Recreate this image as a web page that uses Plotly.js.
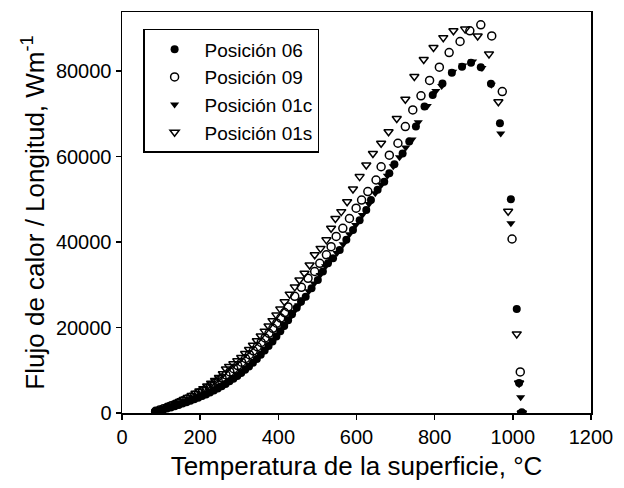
<!DOCTYPE html>
<html>
<head>
<meta charset="utf-8">
<script src="https://cdn.plot.ly/plotly-3.0.1.min.js"></script>
<style>html,body{margin:0;padding:0;background:#fff;}#chart{width:624px;height:488px;}</style>
</head>
<body>
<div id="chart"></div>
<script>
// Posición 06 (filled circles)
const x06 = [85, 95, 105, 115, 125, 135, 145, 155, 165, 175, 185, 195, 205, 215, 225, 235, 245, 255, 265, 275, 285, 295, 305, 315, 325, 335, 345, 355, 365, 375, 385, 395, 405, 415, 425, 435, 447, 458, 470, 485, 501, 514, 527, 540, 557, 574, 591, 608, 625, 637, 654, 671, 684, 697, 718, 735, 752, 774, 795, 820, 844, 870, 893, 918, 944, 967, 995, 1010, 1016, 1023];
const y06 = [300, 500, 800, 1050, 1300, 1600, 1900, 2200, 2500, 2850, 3200, 3550, 3950, 4350, 4800, 5250, 5750, 6250, 6800, 7400, 8000, 8650, 9350, 10100, 10900, 11750, 12650, 13600, 14600, 15650, 16750, 17900, 19100, 20350, 21700, 23100, 24600, 26000, 27200, 29200, 31100, 33100, 35000, 36200, 38100, 40500, 42800, 45100, 47500, 49800, 52200, 54100, 56100, 58200, 60700, 63500, 67000, 71700, 74400, 77100, 79600, 81000, 81900, 80900, 77000, 67800, 50000, 24300, 7000, 0];

// Posición 09 (open circles)
const x09 = [86, 96, 106, 116, 126, 136, 146, 156, 166, 176, 186, 196, 206, 216, 226, 236, 246, 256, 266, 276, 286, 296, 306, 316, 326, 336, 346, 356, 366, 376, 386, 396, 406, 416, 425, 442, 459, 476, 493, 506, 523, 535, 548, 565, 582, 599, 613, 629, 650, 663, 684, 706, 725, 744, 765, 787, 812, 837, 865, 890, 918, 946, 973, 998, 1019, 1023];
const y09 = [400, 700, 1000, 1350, 1700, 2050, 2450, 2850, 3250, 3700, 4150, 4650, 5150, 5700, 6300, 6900, 7550, 8200, 8900, 9600, 10350, 11100, 11900, 12750, 13650, 14550, 15500, 16500, 17550, 18650, 19800, 21000, 22200, 23500, 24800, 27300, 29400, 31500, 33100, 35000, 37000, 38900, 41300, 43200, 45500, 47900, 49800, 51800, 54500, 57600, 60300, 63100, 67000, 70900, 74200, 77800, 80900, 84300, 86900, 89400, 90800, 88200, 75200, 40700, 9600, 0];

// Posición 01c (filled triangles)
const x01c = [88, 98, 108, 118, 128, 138, 148, 158, 168, 178, 188, 198, 208, 218, 228, 238, 248, 258, 268, 278, 288, 298, 308, 318, 328, 338, 348, 358, 368, 378, 388, 398, 408, 418, 428, 440, 452, 464, 478, 492, 507, 521, 535, 550, 566, 582, 598, 615, 632, 648, 664, 679, 694, 710, 726, 742, 758, 781, 803, 818, 846, 872, 897, 921, 945, 969, 995, 1020, 1023];
const y01c = [350, 600, 850, 1100, 1400, 1700, 2000, 2300, 2650, 3000, 3350, 3700, 4100, 4550, 5000, 5450, 5950, 6500, 7050, 7650, 8300, 8950, 9650, 10400, 11200, 12050, 12950, 13900, 14950, 16000, 17100, 18300, 19500, 20800, 22100, 23700, 25200, 26600, 28500, 30300, 32300, 34300, 35900, 37400, 39500, 41800, 44000, 46300, 48900, 51400, 53400, 55500, 57700, 59800, 62100, 64000, 68000, 71800, 75300, 76500, 79800, 81300, 82200, 80700, 76800, 65400, 44400, 3700, 0];

// Posición 01s (open triangles)
const x01s = [88, 98, 108, 118, 128, 138, 148, 158, 168, 178, 188, 198, 208, 218, 228, 238, 248, 258, 266, 274, 285, 295, 305, 315, 325, 335, 345, 355, 365, 375, 385, 395, 405, 416, 429, 442, 454, 467, 480, 493, 508, 523, 535, 546, 561, 576, 591, 608, 625, 642, 663, 682, 703, 725, 748, 772, 797, 822, 848, 878, 910, 939, 963, 988, 1010, 1016, 1023];
const y01s = [300, 700, 1050, 1450, 1850, 2250, 2700, 3150, 3600, 4100, 4600, 5150, 5700, 6300, 6950, 7600, 8300, 9200, 10300, 10900, 11500, 12200, 13000, 13900, 14850, 15850, 16900, 18000, 19150, 20350, 21600, 22900, 24300, 26000, 27800, 29500, 31100, 32700, 34600, 37000, 38500, 40500, 43200, 45500, 47100, 49400, 52400, 55300, 58000, 60700, 63100, 65800, 68900, 73400, 78700, 82700, 85500, 87800, 89400, 89800, 88200, 84000, 72800, 47200, 18500, 7000, 0];

const seriesNames = ['Posición 06', 'Posición 09', 'Posición 01c', 'Posición 01s'];
const xTicks = [0, 200, 400, 600, 800, 1000, 1200];
const yTicks = [0, 20000, 40000, 60000, 80000];

const FONT = 'Liberation Sans, Arial, sans-serif';
function tr(x, y, name, symbol, open) {
  return {
    type: 'scatter', mode: 'markers', x: x, y: y, name: name,
    marker: {symbol: symbol, size: 8, color: '#000',
      line: {color: '#000', width: open ? 1.5 : 0}}
  };
}
const data = [
  tr(x06, y06, seriesNames[0], 'circle', false),
  tr(x09, y09, seriesNames[1], 'circle-open', true),
  tr(x01c, y01c, seriesNames[2], 'triangle-down', false),
  tr(x01s, y01s, seriesNames[3], 'triangle-down-open', true)
];

const layout = {
  width: 624, height: 488,
  margin: {l: 122, r: 33, t: 12, b: 75},
  paper_bgcolor: '#fff', plot_bgcolor: '#fff',
  font: {family: FONT, color: '#000', size: 19},
  showlegend: true,
  legend: {x: 0.045, y: 0.958, xanchor: 'left', yanchor: 'top',
    bordercolor: '#000', borderwidth: 1.5, bgcolor: '#fff',
    font: {family: FONT, size: 19, color: '#000'}, itemwidth: 50, tracegroupgap: 0},
  xaxis: {
    range: [0, 1200], tickvals: xTicks, ticktext: xTicks.map(String),
    showgrid: false, zeroline: false, showline: true, linecolor: '#000', linewidth: 1.5,
    mirror: true, ticks: 'outside', ticklen: 5, tickcolor: '#000', tickwidth: 1.5,
    tickfont: {family: FONT, size: 20, color: '#000'},
    title: {text: 'Temperatura de la superficie, °C', font: {family: FONT, size: 26, color: '#000'}, standoff: 10}
  },
  yaxis: {
    range: [0, 93800], tickvals: yTicks, ticktext: yTicks.map(String),
    showgrid: false, zeroline: false, showline: true, linecolor: '#000', linewidth: 1.5,
    mirror: true, ticks: 'outside', ticklen: 5, tickcolor: '#000', tickwidth: 1.5,
    tickfont: {family: FONT, size: 20, color: '#000'},
    title: {text: 'Flujo de calor / Longitud, Wm<sup>-1</sup>', font: {family: FONT, size: 26, color: '#000'}, standoff: 4}
  }
};
Plotly.newPlot('chart', data, layout, {displayModeBar: false, staticPlot: true});
</script>
</body>
</html>
